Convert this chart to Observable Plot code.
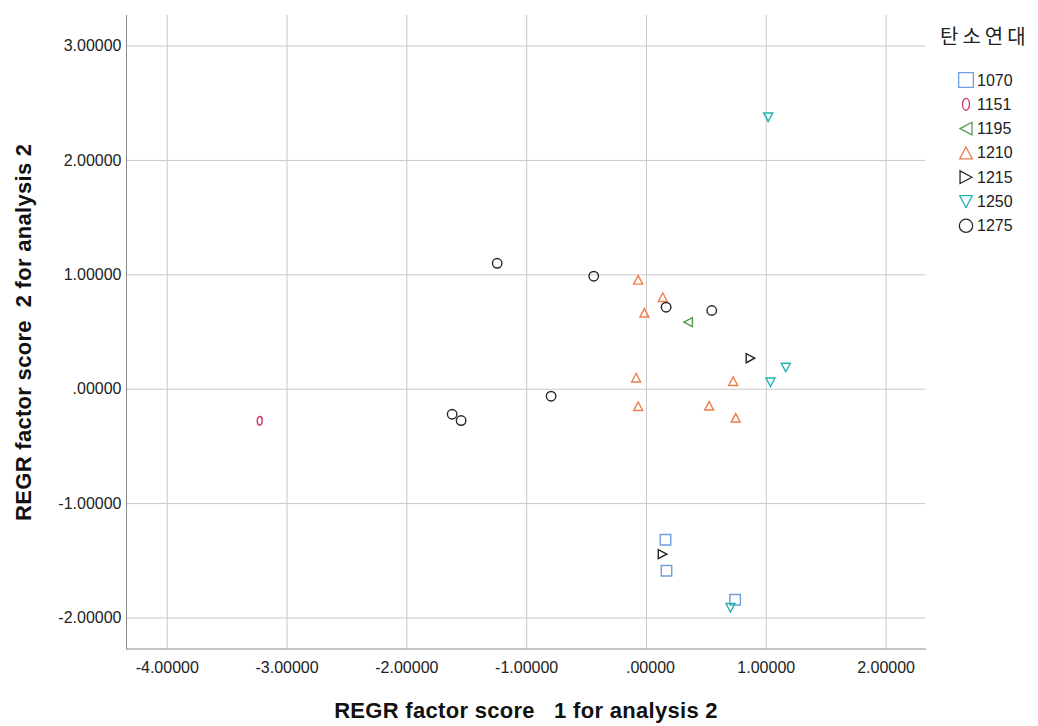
<!DOCTYPE html>
<html>
<head>
<meta charset="utf-8">
<script src="https://cdn.jsdelivr.net/npm/d3@7"></script>
<script src="https://cdn.jsdelivr.net/npm/@observablehq/plot@0.6"></script>
<style>
  body { margin: 0; background: #fff; }
  #wrap { position: relative; width: 1038px; height: 726px; font-family: "Liberation Sans", Arial, sans-serif; }
  #chart { position: absolute; left: 0; top: 0; }
  #legend { position: absolute; left: 0; top: 0; }
  svg text { white-space: pre; }
</style>
</head>
<body>
<div id="wrap"><div id="chart"></div><div id="legend"></div></div>
<script>
// Radiocarbon date groups (탄소연대) and their marker colours
const years = ["1070", "1151", "1195", "1210", "1215", "1250", "1275"];
const yearColors = ["#6f9fdc", "#d2325f", "#4f9d4f", "#f07c4c", "#262626", "#22b3b0", "#262626"];

// REGR factor score 1 (x) and 2 (y) for each group
const x1070 = [0.159, 0.167, 0.740];
const y1070 = [-1.316, -1.587, -1.841];
const x1151 = [-3.228];
const y1151 = [-0.276];
const x1195 = [0.348];
const y1195 = [0.586];
const x1210 = [-0.069, 0.136, -0.017, -0.086, 0.724, -0.069, 0.523, 0.745];
const y1210 = [0.956, 0.804, 0.668, 0.100, 0.070, -0.149, -0.145, -0.250];
const x1215 = [0.868, 0.134];
const y1215 = [0.271, -1.442];
const x1250 = [1.016, 1.163, 1.035, 0.701];
const y1250 = [2.378, 0.190, 0.061, -1.911];
const x1275 = [-1.246, -0.440, 0.164, 0.545, -0.796, -1.622, -1.547];
const y1275 = [1.101, 0.988, 0.717, 0.688, -0.061, -0.219, -0.274];

const xTicks = [-4, -3, -2, -1, 0, 1, 2];
const yTicks = [-2, -1, 0, 1, 2, 3];
const xTitle = "REGR factor score   1 for analysis 2";
const yTitle = "REGR factor score  2 for analysis 2";
const legendTitle = "탄소연대";

const series = {
  "1070": [x1070, y1070], "1151": [x1151, y1151], "1195": [x1195, y1195],
  "1210": [x1210, y1210], "1215": [x1215, y1215], "1250": [x1250, y1250],
  "1275": [x1275, y1275]
};
const points = years.flatMap(yr => series[yr][0].map((v, i) => ({year: yr, s1: v, s2: series[yr][1][i]})));

// Outline marker shapes (size = r²π, as Plot passes it)
const K = 0.5523;
function ellipse(c, rx, ry) {
  c.moveTo(0, -ry);
  c.bezierCurveTo(K * rx, -ry, rx, -K * ry, rx, 0);
  c.bezierCurveTo(rx, K * ry, K * rx, ry, 0, ry);
  c.bezierCurveTo(-K * rx, ry, -rx, K * ry, -rx, 0);
  c.bezierCurveTo(-rx, -K * ry, -K * rx, -ry, 0, -ry);
  c.closePath();
}
const rad = size => Math.sqrt(size / Math.PI);
const symSquare = {draw(c, size) { const s = rad(size) * 1.05; c.moveTo(-s, -s); c.lineTo(s, -s); c.lineTo(s, s); c.lineTo(-s, s); c.closePath(); }};
const symOval = {draw(c, size) { const s = rad(size); ellipse(c, s * 0.5, s * 0.85); }};
const symLeft = {draw(c, size) { const s = rad(size); c.moveTo(-s * 0.85, 0); c.lineTo(s * 0.85, -s * 0.9); c.lineTo(s * 0.85, s * 0.9); c.closePath(); }};
const symUp = {draw(c, size) { const s = rad(size); c.moveTo(0, -s * 0.85); c.lineTo(s * 0.9, s * 0.85); c.lineTo(-s * 0.9, s * 0.85); c.closePath(); }};
const symRight = {draw(c, size) { const s = rad(size); c.moveTo(s * 0.85, 0); c.lineTo(-s * 0.85, -s * 0.9); c.lineTo(-s * 0.85, s * 0.9); c.closePath(); }};
const symDown = {draw(c, size) { const s = rad(size); c.moveTo(0, s * 0.85); c.lineTo(s * 0.9, -s * 0.85); c.lineTo(-s * 0.9, -s * 0.85); c.closePath(); }};
const symRing = {draw(c, size) { const s = rad(size) * 0.95; c.moveTo(s, 0); c.arc(0, 0, s, 0, 2 * Math.PI); c.closePath(); }};
const yearSymbols = [symSquare, symOval, symLeft, symUp, symRight, symDown, symRing];

// SPSS-style labels: five decimals, plain hyphen, no leading zero for 0
const fmt = v => v === 0 ? ".00000" : v.toFixed(5);
const tickFont = "Liberation Sans, Arial, sans-serif";
const xTicksNonZero = xTicks.filter(v => v !== 0);

const chart = Plot.plot({
  width: 940,
  height: 726,
  marginLeft: 126,
  marginRight: 15,
  marginTop: 15,
  marginBottom: 77.5,
  style: {fontFamily: tickFont, background: "#fff", color: "#222"},
  x: {domain: [-4.34, 2.329]},
  y: {domain: [-2.271, 3.267]},
  symbol: {domain: years, range: yearSymbols},
  color: {domain: years, range: yearColors},
  marks: [
    Plot.gridX(xTicks, {stroke: "#c8c8c8", strokeOpacity: 1, strokeWidth: 1}),
    Plot.gridY(yTicks, {stroke: "#c8c8c8", strokeOpacity: 1, strokeWidth: 1}),
    Plot.frame({anchor: "left", stroke: "#8c8c8c"}),
    Plot.frame({anchor: "bottom", stroke: "#8c8c8c"}),
    Plot.axisX(xTicksNonZero, {tickFormat: fmt, tickSize: 0, tickPadding: 13, fontSize: 16, label: null, fill: "#222"}),
    Plot.axisX([0], {tickFormat: fmt, tickSize: 0, tickPadding: 13, fontSize: 16, label: null, fill: "#222", dx: 4}),
    Plot.axisY(yTicks, {tickFormat: fmt, tickSize: 0, tickPadding: 5, fontSize: 16, label: null, fill: "#222"}),
    Plot.text([xTitle], {frameAnchor: "bottom", textAnchor: "middle", lineAnchor: "bottom", dy: 69, fontSize: 22, fontWeight: "bold", fill: "#111"}),
    Plot.text([yTitle], {frameAnchor: "left", textAnchor: "middle", lineAnchor: "bottom", rotate: -90, dx: -96, fontSize: 22, fontWeight: "bold", fill: "#111"}),
    Plot.dot(points, {x: "s1", y: "s2", symbol: "year", stroke: "year", r: 5, strokeWidth: 1.4, fill: "none"})
  ]
});
document.getElementById("chart").append(chart);
chart.querySelectorAll("text").forEach(t => {
  if (t.textContent === xTitle || t.textContent === yTitle) t.setAttribute("letter-spacing", "0.3");
});

// Legend: group title and one row per date group
const leg = d3.select("#legend").append("svg").attr("width", 1038).attr("height", 260)
  .style("position", "absolute").style("left", "0px").style("top", "0px");
leg.append("text").attr("x", 940).attr("y", 44).attr("font-family", "Noto Sans CJK KR, sans-serif")
  .attr("font-size", 20).attr("letter-spacing", 4).attr("fill", "#222").text(legendTitle);
years.forEach((yr, i) => {
  const cy = 80 + i * 24.3;
  leg.append("path").attr("transform", `translate(966,${cy})`)
    .attr("d", d3.symbol().type(yearSymbols[i]).size(Math.PI * 7 * 7)())
    .attr("fill", "none").attr("stroke", yearColors[i]).attr("stroke-width", 1.3);
  leg.append("text").attr("x", 977).attr("y", cy + 5.5).attr("font-family", tickFont)
    .attr("font-size", 16).attr("fill", "#222").text(yr);
});
</script>
</body>
</html>
